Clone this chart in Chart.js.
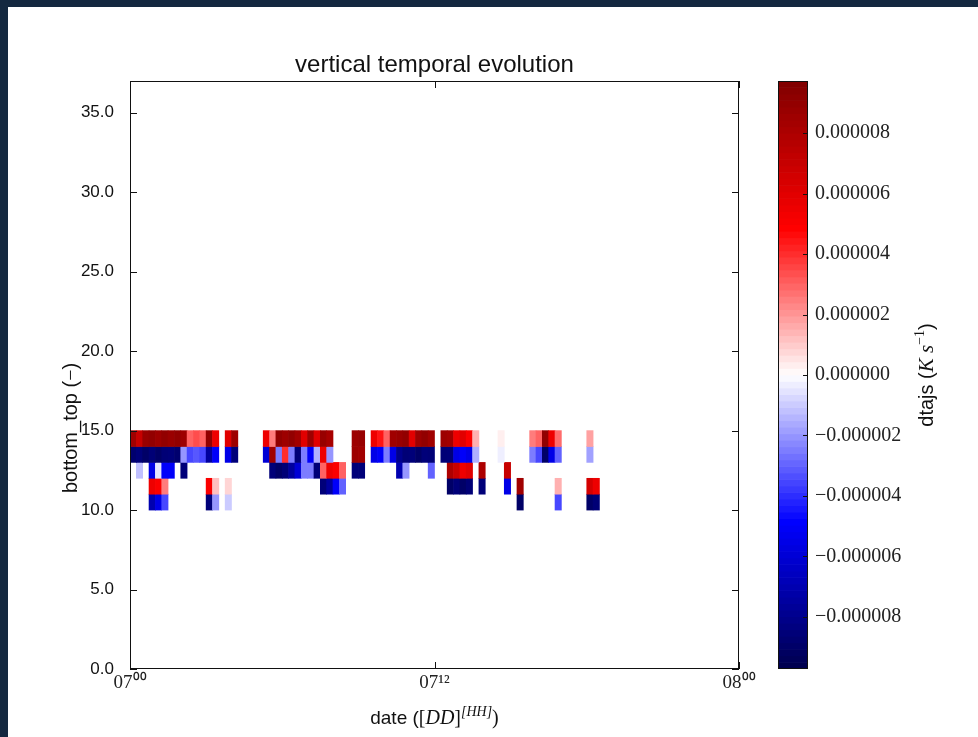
<!DOCTYPE html>
<html>
<head>
<meta charset="utf-8">
<script src="https://cdn.jsdelivr.net/npm/chart.js"></script>
<style>
  html, body { margin: 0; padding: 0; width: 978px; height: 737px; overflow: hidden; background: #142840; }
  #panel { position: absolute; left: 8px; top: 7px; width: 970px; height: 730px; background: #ffffff; }
  #main { position: absolute; left: 0; top: 0; width: 978px; height: 737px; }
  #cbar { position: absolute; left: 760px; top: 0; width: 218px; height: 737px; }
</style>
</head>
<body>
<div id="panel"></div>
<div id="main"><canvas id="c1"></canvas></div>
<div id="cbar"><canvas id="c2"></canvas></div>
<script>
// ---- data (values in 1e-6 K s^-1), one array per model level, one entry per 15-min bin from 07 00h ----
const vmax = 9.72;               // colour limit of the colour bar
const binHours = 0.25;           // time bin width (hours)
const levels = [14, 13, 12, 11, 10];
const xTickLabels = ['07\u2070\u2070', '07\u00b9\u00b2', '08\u2070\u2070'];

const row14 = [
  8.5, 7.0, 8.8, 9.0, 8.6, 9.0, 8.7, 9.0, 8.6, 3.0,
  3.4, 3.0, 9.0, 5.5, null, 6.0, 8.6, null, null, null,
  null, 5.5, 2.5, 9.0, 8.6, 9.0, 8.4, 6.0, 8.6, 6.0,
  8.8, 8.2, null, null, null, 8.6, 8.8, null, 5.5, 4.5,
  3.0, 8.5, 8.7, 9.0, 6.0, 8.6, 9.0, 8.5, null, 8.6,
  8.4, 5.5, 6.0, 5.0, 1.5, null, null, null, 0.3, null,
  null, null, null, 2.5, 3.0, 9.0, 5.5, 2.8, null, null,
  null, null, 1.8, null
];
const row13 = [
  -8.8, -8.5, -9.0, -8.6, -9.0, -8.6, -8.5, -8.8, -2.0, -3.5,
  -3.2, -3.5, -7.5, -5.0, null, -5.5, -8.5, null, null, null,
  null, -6.0, 8.5, -2.5, 4.0, -2.5, -8.5, -2.5, -5.0, -1.5,
  5.5, -2.0, null, null, null, 8.6, 8.4, null, -5.5, -5.0,
  -2.5, -5.5, -8.0, -8.6, -8.5, -9.0, -8.5, -8.6, null, -8.6,
  -8.5, -5.5, -5.0, -5.5, -1.5, null, null, null, -0.3, null,
  null, null, null, -2.5, -3.5, -9.0, -5.5, -3.0, null, null,
  null, null, -1.8, null
];
const row12 = [
  null, -1.2, null, -5.5, -0.5, -5.0, -5.0, null, -8.5, null,
  null, null, null, null, null, null, null, null, null, null,
  null, null, -8.5, -9.0, -8.6, -7.5, -6.0, -2.5, -2.5, -8.5,
  3.0, 5.5, 5.0, 3.0, null, -8.5, -8.5, null, null, null,
  null, null, -7.0, -2.0, null, null, null, -3.0, null, null,
  8.0, 7.0, 5.5, 6.0, null, 8.0, null, null, null, 7.0,
  null, null, null, null, null, null, null, null, null, null,
  null, null, null, null
];
const row11 = [
  null, null, null, 5.5, 5.0, 2.5, null, null, null, null,
  null, null, 5.0, 1.2, null, 0.8, null, null, null, null,
  null, null, null, null, null, null, null, null, null, null,
  -8.5, -7.5, -5.0, -3.0, null, null, null, null, null, null,
  null, null, null, null, null, null, null, null, null, null,
  -9.0, -8.5, -9.0, -8.6, null, -8.5, null, null, null, -5.5,
  null, 8.5, null, null, null, null, null, 1.5, null, null,
  null, null, 6.5, 5.5
];
const row10 = [
  null, null, null, -7.0, -5.5, -3.5, null, null, null, null,
  null, null, -8.5, -2.0, null, -1.0, null, null, null, null,
  null, null, null, null, null, null, null, null, null, null,
  null, null, null, null, null, null, null, null, null, null,
  null, null, null, null, null, null, null, null, null, null,
  null, null, null, null, null, null, null, null, null, null,
  null, -9.0, null, null, null, null, null, -3.5, null, null,
  null, null, -9.0, -8.6
];
const rows = [row14, row13, row12, row11, row10];

// ---- matplotlib "seismic" colour map ----
function seismic(t) {
  t = Math.max(-1, Math.min(1, t));
  const stops = [[0, 0, 0.3], [0, 0, 1], [1, 1, 1], [1, 0, 0], [0.5, 0, 0]];
  const p = (t + 1) / 2 * 4;
  const i = Math.min(3, Math.floor(p));
  const f = p - i;
  const a = stops[i], b = stops[i + 1];
  const c = a.map((av, k) => Math.round(255 * (av + (b[k] - av) * f)));
  return 'rgb(' + c[0] + ',' + c[1] + ',' + c[2] + ')';
}

const datasets = levels.map((lev, k) => ({
  label: 'level ' + lev,
  data: rows[k].map((v, i) => v === null ? null : { x: (i + 0.5) * binHours, y: [lev, lev + 1], v: v }).filter(d => d),
  backgroundColor: ctx => seismic(ctx.raw ? ctx.raw.v / vmax : 0),
  borderWidth: 0,
  grouped: false,
  barPercentage: 1,
  categoryPercentage: 1
}));

// frame + inward tick marks like matplotlib
const frameTicks = {
  id: 'frameTicks',
  afterDatasetsDraw(chart, args, opts) {
    const { ctx, chartArea: a } = chart;
    ctx.save();
    ctx.strokeStyle = '#111';
    ctx.lineWidth = 1;
    ctx.strokeRect(a.left + 0.5, a.top + 0.5, a.width - 1, a.height - 1);
    const len = opts.len;
    ctx.beginPath();
    const y = chart.scales.y;
    if (y) {
      y.ticks.forEach(t => {
        const py = Math.round(y.getPixelForValue(t.value)) + 0.5;
        if (opts.left) { ctx.moveTo(a.left, py); ctx.lineTo(a.left + len, py); }
        if (opts.right) { ctx.moveTo(a.right, py); ctx.lineTo(a.right - len, py); }
      });
    }
    const x = chart.scales.x;
    if (x && opts.xticks) {
      x.ticks.forEach(t => {
        const px = Math.round(x.getPixelForValue(t.value)) + 0.5;
        ctx.moveTo(px, a.bottom); ctx.lineTo(px, a.bottom - len);
        ctx.moveTo(px, a.top); ctx.lineTo(px, a.top + len);
      });
    }
    ctx.stroke();
    ctx.restore();
  }
};

// axis titles with math-style parts
const axisTitles = {
  id: 'axisTitles',
  afterDraw(chart) {
    const { ctx, chartArea: a } = chart;
    const drawParts = (parts, cx, base) => {
      let total = 0;
      parts.forEach(p => { ctx.font = p.f; p.w = ctx.measureText(p.t).width; total += p.w; });
      let x0 = cx - total / 2;
      parts.forEach(p => { ctx.font = p.f; ctx.fillText(p.t, x0, base + p.dy); x0 += p.w; });
    };
    ctx.save();
    ctx.fillStyle = '#111';
    ctx.textBaseline = 'alphabetic';
    ctx.textAlign = 'left';
    // x title: date ([DD]^[HH])
    drawParts([
      { t: 'date (', f: '19px "Liberation Sans"', dy: 0 },
      { t: '[', f: '20px "Liberation Serif"', dy: 0 },
      { t: 'DD', f: 'italic 20px "Liberation Serif"', dy: 0 },
      { t: ']', f: '20px "Liberation Serif"', dy: 0 },
      { t: '[HH]', f: 'italic 14px "Liberation Serif"', dy: -8 },
      { t: ')', f: '20px "Liberation Serif"', dy: 0 }
    ], (a.left + a.right) / 2, 724);
    // y title: bottom_top (−)
    ctx.translate(77, 428);
    ctx.rotate(-Math.PI / 2);
    drawParts([
      { t: 'bottom_top (', f: '20px "Liberation Sans"', dy: 0 },
      { t: '\u2212', f: '20px "Liberation Serif"', dy: 0 },
      { t: ')', f: '20px "Liberation Sans"', dy: 0 }
    ], 0, 0);
    ctx.restore();
  }
};

new Chart(document.getElementById('c1'), {
  type: 'bar',
  data: { datasets },
  options: {
    responsive: true,
    maintainAspectRatio: false,
    animation: false,
    layout: { padding: { left: 8, top: 0, right: 978 - 739, bottom: 0 } },
    plugins: {
      legend: { display: false },
      tooltip: { enabled: false },
      title: {
        display: true,
        fullSize: false,
        text: 'vertical temporal evolution',
        color: '#111',
        font: { family: 'Liberation Sans', size: 24, weight: 'normal' },
        padding: { top: 50.6, bottom: 1.6 }
      },
      frameTicks: { len: 7, left: true, right: true, xticks: true }
    },
    scales: {
      x: {
        type: 'linear',
        min: 0,
        max: 24,
        offset: false,
        grid: { display: false, drawTicks: false },
        border: { display: false },
        ticks: {
          stepSize: 12,
          padding: 3,
          maxRotation: 0,
          color: '#222',
          font: { family: 'Liberation Serif', size: 19 },
          callback: v => xTickLabels[Math.round(v / 12)]
        },
        afterFit: s => { s.height = 68; }
      },
      y: {
        type: 'linear',
        min: 0,
        max: 37,
        grid: { display: false, drawTicks: false },
        border: { display: false },
        ticks: {
          stepSize: 5,
          includeBounds: false,
          padding: 16,
          color: '#111',
          font: { family: 'Liberation Sans', size: 17 },
          callback: v => v.toFixed(1)
        },
        afterFit: s => { s.width = 122; }
      }
    }
  },
  plugins: [frameTicks, axisTitles]
});

// ---- colour bar ----
const cbarBands = 90;
const cbarData = [];
for (let k = 0; k < cbarBands; k++) {
  const lo = -vmax + 2 * vmax * k / cbarBands;
  const hi = -vmax + 2 * vmax * (k + 1) / cbarBands;
  cbarData.push({ x: 'c', y: [lo, hi], v: (lo + hi) / 2 });
}
const cbarLabel = {
  id: 'cbarLabel',
  afterDraw(chart) {
    const { ctx, chartArea: a } = chart;
    ctx.save();
    ctx.translate(a.right + 119, (a.top + a.bottom) / 2);
    ctx.rotate(-Math.PI / 2);
    ctx.fillStyle = '#111';
    ctx.textBaseline = 'middle';
    ctx.textAlign = 'left';
    const parts = [
      { t: 'dtajs (', f: '20px "Liberation Sans"' },
      { t: 'K s', f: 'italic 21px "Liberation Serif"' },
      { t: '\u2212', f: '14px "Liberation Serif"', dy: -7 },
      { t: '1', f: '14px "Liberation Serif"', dy: -7 },
      { t: ')', f: '20px "Liberation Sans"' }
    ];
    let total = 0;
    parts.forEach(p => { ctx.font = p.f; p.w = ctx.measureText(p.t).width; total += p.w; });
    let x0 = -total / 2;
    parts.forEach(p => { ctx.font = p.f; ctx.fillText(p.t, x0, p.dy || 0); x0 += p.w; });
    ctx.restore();
  }
};

new Chart(document.getElementById('c2'), {
  type: 'bar',
  data: {
    labels: ['c'],
    datasets: [{
      data: cbarData,
      backgroundColor: ctx => seismic(ctx.raw ? ctx.raw.v / vmax : 0),
      borderWidth: 0,
      grouped: false,
      barPercentage: 1,
      categoryPercentage: 1
    }]
  },
  options: {
    responsive: true,
    maintainAspectRatio: false,
    animation: false,
    layout: { padding: { left: 18, top: 81, right: 0, bottom: 68 } },
    plugins: {
      legend: { display: false },
      tooltip: { enabled: false },
      frameTicks: { len: 5, left: false, right: true, xticks: false }
    },
    scales: {
      x: { display: false, offset: true },
      y: {
        position: 'right',
        min: -vmax,
        max: vmax,
        grid: { display: false, drawTicks: false },
        border: { display: false },
        ticks: {
          stepSize: 2,
          includeBounds: false,
          padding: 7,
          color: '#222',
          font: { family: 'Liberation Serif', size: 20 },
          callback: v => {
            if (Math.abs(v) < 1e-9) return '0.000000';
            const s = (Math.abs(v) / 1e6).toFixed(6);
            return v < 0 ? '\u2212' + s : s;
          }
        },
        afterFit: s => { s.width = 170; }
      }
    }
  },
  plugins: [frameTicks, cbarLabel]
});
</script>
</body>
</html>
